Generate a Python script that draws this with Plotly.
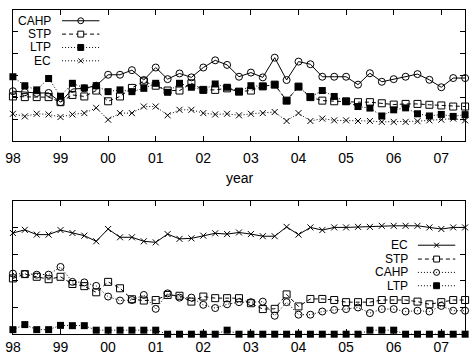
import plotly.graph_objects as go

# ---------------- data ----------------
quarters = [1998.0, 1998.25, 1998.5, 1998.75, 1999.0, 1999.25, 1999.5, 1999.75,
            2000.0, 2000.25, 2000.5, 2000.75, 2001.0, 2001.25, 2001.5, 2001.75,
            2002.0, 2002.25, 2002.5, 2002.75, 2003.0, 2003.25, 2003.5, 2003.75,
            2004.0, 2004.25, 2004.5, 2004.75, 2005.0, 2005.25, 2005.5, 2005.75,
            2006.0, 2006.25, 2006.5, 2006.75, 2007.0, 2007.25, 2007.5]
year_ticks = [1998, 1999, 2000, 2001, 2002, 2003, 2004, 2005, 2006, 2007]
year_labels = ["98", "99", "00", "01", "02", "03", "04", "05", "06", "07"]

top_cahp = [2.29, 2.24, 2.21, 2.21, 1.79, 2.39, 2.42, 2.54, 3.04, 3.04, 3.25, 2.80, 3.37,
            2.84, 3.10, 2.92, 3.37, 3.70, 3.49, 2.95, 3.14, 2.92, 3.82, 2.80, 3.64, 3.52,
            2.95, 2.95, 2.95, 2.59, 3.11, 2.72, 2.84, 2.95, 3.07, 2.81, 2.47, 2.89, 2.89]
top_stp = [2.05, 2.02, 2.02, 2.02, 1.79, 2.12, 2.05, 2.32, 1.83, 2.05, 2.44, 2.74, 2.54,
           2.32, 2.32, 2.65, 2.35, 2.35, 2.42, 2.27, 2.32, 2.51, 2.59, 1.86, 2.50, 2.02,
           1.86, 1.83, 1.83, 1.79, 1.79, 1.74, 1.68, 1.71, 1.71, 1.67, 1.64, 1.59, 1.59]
top_ltp = [2.95, 2.54, 2.35, 2.87, 2.06, 2.65, 2.44, 2.54, 2.27, 2.35, 2.27, 2.42, 2.65,
           2.24, 2.65, 2.47, 2.35, 2.62, 2.47, 2.27, 2.54, 2.51, 2.59, 1.86, 2.50, 2.02,
           2.32, 2.05, 1.82, 1.59, 1.52, 1.16, 1.44, 1.53, 1.26, 1.16, 1.23, 1.14, 1.22]
top_ec = [1.26, 1.14, 1.26, 1.23, 1.11, 1.23, 1.29, 1.53, 0.99, 1.29, 1.29, 1.59, 1.59,
          1.19, 1.44, 1.44, 1.29, 1.23, 1.26, 1.19, 1.26, 1.29, 1.34, 0.93, 1.29, 0.93,
          1.04, 0.96, 0.96, 0.93, 0.93, 0.89, 0.89, 0.89, 0.92, 0.96, 0.99, 1.04, 0.96]

bot_ec = [3.79, 3.91, 3.73, 3.73, 3.90, 3.79, 3.69, 3.48, 3.94, 3.63, 3.63, 3.48, 3.44,
          3.75, 3.57, 3.59, 3.69, 3.78, 3.75, 3.81, 3.75, 3.67, 3.67, 4.02, 3.73, 4.00,
          3.90, 4.00, 4.00, 4.02, 4.02, 4.06, 4.06, 4.06, 4.06, 4.00, 3.94, 4.00, 4.00]
bot_stp = [2.09, 2.25, 2.15, 2.06, 2.15, 1.88, 1.80, 1.57, 1.96, 1.72, 1.31, 1.26, 1.28,
           1.47, 1.44, 1.22, 1.41, 1.35, 1.35, 1.35, 1.16, 0.94, 0.95, 1.49, 1.04, 1.32,
           1.32, 1.28, 1.20, 1.20, 1.20, 1.28, 1.28, 1.28, 1.22, 1.12, 1.20, 1.28, 1.28]
bot_cahp = [2.27, 2.25, 2.23, 2.23, 2.52, 1.96, 1.94, 1.81, 1.41, 1.26, 1.28, 1.47, 0.95,
            1.53, 1.37, 1.37, 1.10, 0.98, 1.12, 1.20, 1.20, 1.22, 0.69, 1.20, 0.73, 0.73,
            0.85, 0.91, 0.94, 1.00, 0.79, 0.94, 0.94, 0.85, 0.88, 0.85, 1.06, 0.88, 0.88]
bot_ltp = [0.17, 0.36, 0.17, 0.17, 0.33, 0.32, 0.32, 0.15, 0.15, 0.15, 0.15, 0.15, 0.15,
           0.0, 0.0, 0.0, 0.0, 0.0, 0.15, 0.0, 0.0, 0.0, 0.0, 0.0, 0.0, 0.0,
           0.0, 0.0, 0.0, 0.0, 0.15, 0.15, 0.15, 0.0, 0.0, 0.0, 0.0, 0.0, 0.0]

# ---------------- styles ----------------
W, H = 471, 355
FONT = "Liberation Sans, Arial, Helvetica, sans-serif"
BLACK = "#000000"
SOLID, DASH, DOT = "solid", "4px,3px", "1px,2px"

SYM = {
    "circle": dict(symbol="circle-open", size=7, line=dict(width=1, color=BLACK), color=BLACK),
    "square": dict(symbol="square-open", size=7, line=dict(width=1, color=BLACK), color=BLACK),
    "fsquare": dict(symbol="square", size=7, line=dict(width=0, color=BLACK), color=BLACK),
    "x": dict(symbol="x-thin-open", size=6, line=dict(width=1, color=BLACK), color=BLACK),
}

fig = go.Figure()


def add(y, sym, dash, xa, ya):
    fig.add_trace(go.Scatter(
        x=quarters, y=y, mode="lines+markers", xaxis=xa, yaxis=ya,
        line=dict(color=BLACK, width=1, dash=dash), marker=SYM[sym],
        cliponaxis=False, showlegend=False, hoverinfo="skip"))


add(top_ec, "x", DOT, "x", "y")
add(top_stp, "square", DASH, "x", "y")
add(top_ltp, "fsquare", DOT, "x", "y")
add(top_cahp, "circle", SOLID, "x", "y")

add(bot_ltp, "fsquare", DOT, "x2", "y2")
add(bot_cahp, "circle", DOT, "x2", "y2")
add(bot_stp, "square", DASH, "x2", "y2")
add(bot_ec, "x", SOLID, "x2", "y2")

# ---------------- axes ----------------
def px(x):
    return x / W


def py(y):
    return 1 - y / H


common_x = dict(range=[1998, 2007.5], tickvals=year_ticks, ticktext=year_labels,
                ticks="inside", ticklen=5, tickwidth=1, tickcolor=BLACK,
                mirror="ticks", showline=True, linecolor=BLACK, linewidth=1,
                showgrid=False, zeroline=False, ticklabeloverflow="allow",
                tickfont=dict(family=FONT, size=14, color=BLACK),
                domain=[px(5), px(465)], fixedrange=True)
common_y = dict(ticks="inside", ticklen=5, tickwidth=1, tickcolor=BLACK,
                mirror="ticks", showline=True, linecolor=BLACK, linewidth=1,
                showgrid=False, zeroline=False, showticklabels=False,
                dtick=1, tick0=0, fixedrange=True)

shapes = []
annotations = []


def legend_row(label, ytxt, xr, x0, x1, sym, dash):
    annotations.append(dict(
        text=label, xref="paper", yref="paper", x=px(xr), y=py(ytxt),
        xanchor="right", yanchor="middle", showarrow=False,
        align="right", valign="middle", borderpad=0,
        font=dict(family=FONT, size=12, color=BLACK)))
    shapes.append(dict(type="line", xref="paper", yref="paper",
                       x0=px(x0), x1=px(x1), y0=py(ytxt), y1=py(ytxt),
                       line=dict(color=BLACK, width=1, dash=dash)))
    xm = (x0 + x1) / 2
    r = 3
    if sym == "circle":
        shapes.append(dict(type="circle", xref="paper", yref="paper",
                           x0=px(xm - r), x1=px(xm + r), y0=py(ytxt + r), y1=py(ytxt - r),
                           line=dict(color=BLACK, width=1)))
    elif sym == "square":
        shapes.append(dict(type="rect", xref="paper", yref="paper",
                           x0=px(xm - r), x1=px(xm + r), y0=py(ytxt + r), y1=py(ytxt - r),
                           line=dict(color=BLACK, width=1), fillcolor="white"))
    elif sym == "fsquare":
        shapes.append(dict(type="rect", xref="paper", yref="paper",
                           x0=px(xm - r), x1=px(xm + r), y0=py(ytxt + r), y1=py(ytxt - r),
                           line=dict(color=BLACK, width=1), fillcolor=BLACK))
    else:
        for a, b in ((-1, 1), (1, -1)):
            shapes.append(dict(type="line", xref="paper", yref="paper",
                               x0=px(xm - 2.5), x1=px(xm + 2.5),
                               y0=py(ytxt + 2.5 * a), y1=py(ytxt + 2.5 * b),
                               line=dict(color=BLACK, width=1)))


# top legend
legend_row("CAHP", 21, 45, 55, 93, "circle", SOLID)
legend_row("STP", 34.5, 45, 55, 93, "square", DASH)
legend_row("LTP", 48, 45, 55, 93, "fsquare", DOT)
legend_row("EC", 61.5, 45, 55, 93, "x", DOT)
# bottom legend
legend_row("EC", 248, 408, 417, 455, "x", SOLID)
legend_row("STP", 262, 408, 417, 455, "square", DASH)
legend_row("CAHP", 275.5, 408, 417, 455, "circle", DOT)
legend_row("LTP", 289, 408, 417, 455, "fsquare", DOT)

annotations.append(dict(text="year", xref="paper", yref="paper", x=px(236), y=py(180),
                        xanchor="center", yanchor="middle", showarrow=False,
                        font=dict(family=FONT, size=14, color=BLACK)))

fig.update_layout(
    width=W, height=H, margin=dict(l=0, r=0, t=0, b=0),
    paper_bgcolor="white", plot_bgcolor="white",
    xaxis=dict(common_x, anchor="y", ticklabelstandoff=4),
    yaxis=dict(common_y, range=[0, 6], domain=[py(143), py(10)], anchor="x"),
    xaxis2=dict(common_x, anchor="y2", ticklabelstandoff=0),
    yaxis2=dict(common_y, range=[0, 5], domain=[py(338), py(203)], anchor="x2"),
    shapes=shapes, annotations=annotations, showlegend=False, hovermode=False,
)

fig.write_html("out.html")
